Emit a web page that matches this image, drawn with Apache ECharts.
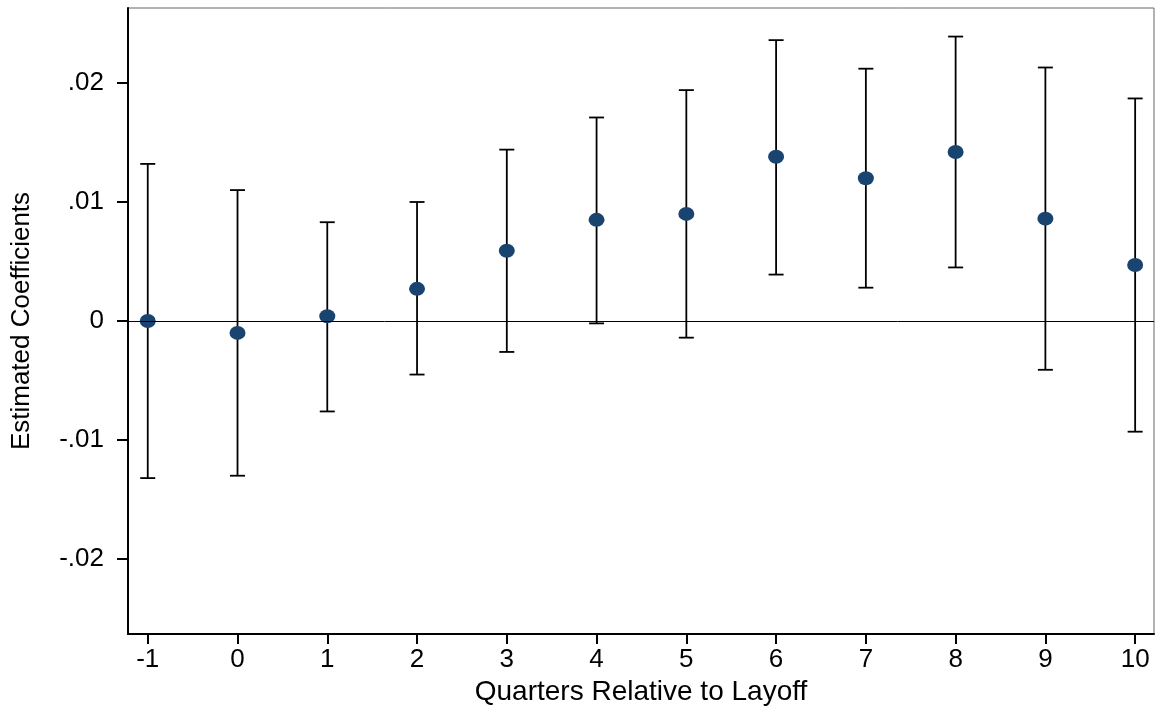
<!DOCTYPE html>
<html>
<head>
<meta charset="utf-8">
<script src="https://cdn.jsdelivr.net/npm/echarts@6/dist/echarts.min.js"></script>
<style>
html,body{margin:0;padding:0;background:#fff;}
#c{width:1157px;height:706px;}
</style>
</head>
<body>
<div id="c"></div>
<script>
var quarters = [-1, 0, 1, 2, 3, 4, 5, 6, 7, 8, 9, 10];
var coefs = [0.0000, -0.0010, 0.0004, 0.0027, 0.0059, 0.0085, 0.0090, 0.0138, 0.0120, 0.0142, 0.0086, 0.0047];
var upper = [0.0132, 0.0110, 0.0083, 0.0100, 0.0144, 0.0171, 0.0194, 0.0236, 0.0212, 0.0239, 0.0213, 0.0187];
var lower = [-0.0132, -0.0130, -0.0076, -0.0045, -0.0026, -0.0002, -0.0014, 0.0039, 0.0028, 0.0045, -0.0041, -0.0093];
var yTicks = [-0.02, -0.01, 0, 0.01, 0.02];
var yTickLabels = ['-.02', '-.01', '0', '.01', '.02'];

var FONT = 'Liberation Sans, Arial, sans-serif';
var chart = echarts.init(document.getElementById('c'), null, {renderer: 'canvas'});

var barData = quarters.map(function (q, i) { return [q, lower[i], upper[i]]; });
var ptData = quarters.map(function (q, i) { return [q, coefs[i]]; });

chart.setOption({
  animation: false,
  backgroundColor: '#ffffff',
  grid: {left: 128, top: 8, right: 3, bottom: 72, containLabel: false, outerBoundsMode: 'none',
    show: true, borderColor: '#666', borderWidth: 1, backgroundColor: 'transparent'},
  xAxis: {
    type: 'value', min: -1.22, max: 10.21,
    name: 'Quarters Relative to Layoff', nameLocation: 'middle', nameGap: 42,
    nameTextStyle: {fontFamily: FONT, fontSize: 28, color: '#000'},
    axisLine: {show: true, onZero: false, lineStyle: {color: '#000', width: 2}},
    axisTick: {show: true, length: 10, lineStyle: {color: '#000', width: 2}, customValues: quarters},
    axisLabel: {fontFamily: FONT, fontSize: 26, color: '#000', margin: 13, customValues: quarters,
      formatter: function (v) { return String(v); }},
    splitLine: {show: false}
  },
  yAxis: {
    type: 'value', min: -0.0263, max: 0.0263,
    name: 'Estimated Coefficients', nameLocation: 'middle', nameGap: 93,
    nameTextStyle: {fontFamily: FONT, fontSize: 26, color: '#000'},
    axisLine: {show: true, onZero: false, lineStyle: {color: '#000', width: 2}},
    axisTick: {show: true, length: 11, lineStyle: {color: '#000', width: 2}, customValues: yTicks},
    axisLabel: {fontFamily: FONT, fontSize: 26, color: '#000', margin: 24, customValues: yTicks,
      formatter: function (v) {
        for (var i = 0; i < yTicks.length; i++) { if (Math.abs(v - yTicks[i]) < 1e-9) return yTickLabels[i]; }
        return '';
      }},
    splitLine: {show: false}
  },
  series: [
    {
      type: 'custom',
      data: barData,
      z: 2,
      renderItem: function (params, api) {
        var x = api.value(0);
        var lo = api.coord([x, api.value(1)]);
        var hi = api.coord([x, api.value(2)]);
        var hw = 7.5;
        var st = {stroke: '#000', lineWidth: 1.8, fill: null};
        return {
          type: 'group',
          children: [
            {type: 'line', shape: {x1: lo[0], y1: lo[1], x2: hi[0], y2: hi[1]}, style: st},
            {type: 'line', shape: {x1: hi[0] - hw, y1: hi[1], x2: hi[0] + hw, y2: hi[1]}, style: st},
            {type: 'line', shape: {x1: lo[0] - hw, y1: lo[1], x2: lo[0] + hw, y2: lo[1]}, style: st}
          ]
        };
      }
    },
    {
      type: 'scatter',
      data: ptData,
      z: 3,
      symbol: 'circle',
      symbolSize: [16, 14],
      itemStyle: {color: '#1a4470', opacity: 1},
      markLine: {
        silent: true, symbol: 'none', label: {show: false},
        lineStyle: {color: '#000', width: 1, type: 'solid'},
        data: [{yAxis: 0}]
      }
    }
  ]
});
</script>
</body>
</html>
